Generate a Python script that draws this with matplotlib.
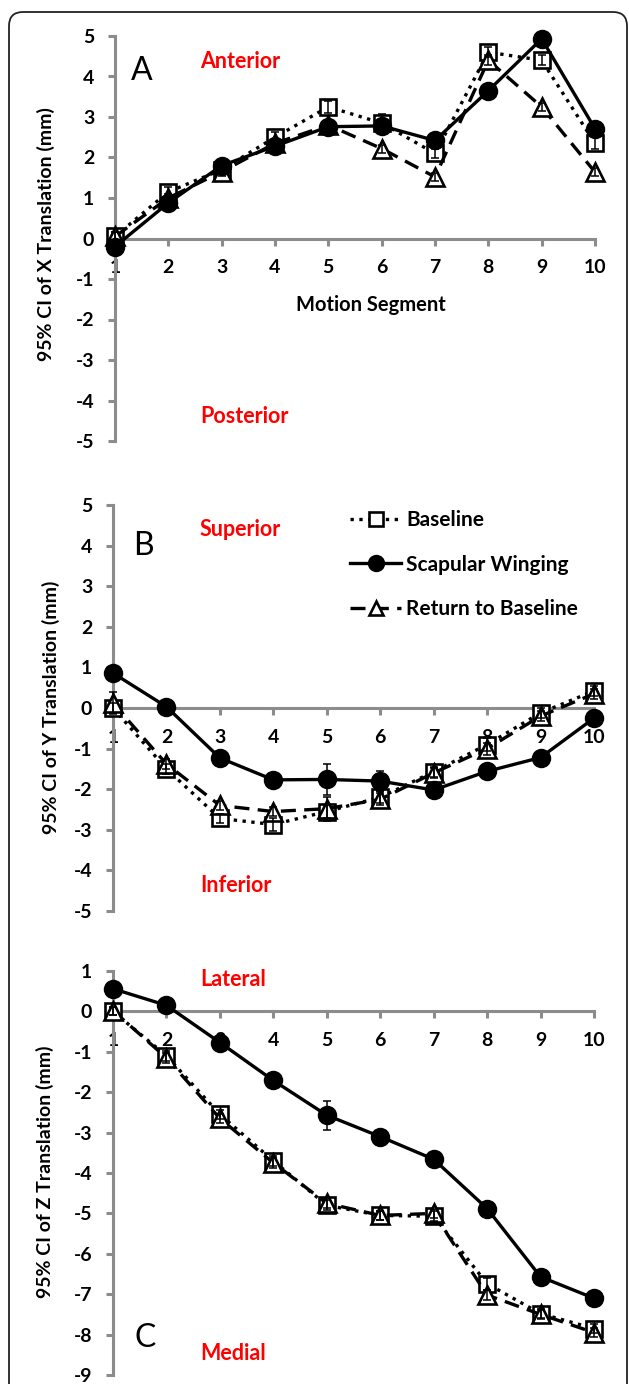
import matplotlib
matplotlib.use("Agg")
import matplotlib.pyplot as plt
from matplotlib.patches import FancyBboxPatch
from matplotlib.lines import Line2D
from matplotlib.transforms import IdentityTransform

plt.rcParams['font.family'] = ['Lato', 'DejaVu Sans']
plt.rcParams['axes.unicode_minus'] = False

segments = [1, 2, 3, 4, 5, 6, 7, 8, 9, 10]

# Panel A: X translation
x_baseline = [0.05, 1.15, 1.7, 2.5, 3.25, 2.85, 2.1, 4.6, 4.4, 2.35]
x_winging  = [-0.2, 0.88, 1.8, 2.28, 2.76, 2.78, 2.42, 3.65, 4.93, 2.71]
x_return   = [0.05, 1.0, 1.65, 2.35, 2.8, 2.22, 1.52, 4.4, 3.25, 1.64]
x_baseline_err = [0.1, 0.12, 0.1, 0.12, 0.15, 0.22, 0.12, 0.12, 0.12, 0.15]
x_winging_err  = [0.1, 0.1, 0.1, 0.1, 0.1, 0.1, 0.1, 0.1, 0.1, 0.1]
x_return_err   = [0.1, 0.1, 0.1, 0.1, 0.1, 0.1, 0.1, 0.12, 0.1, 0.1]

# Panel B: Y translation
y_baseline = [0.0, -1.5, -2.72, -2.87, -2.55, -2.2, -1.57, -0.9, -0.12, 0.42]
y_winging  = [0.86, 0.03, -1.23, -1.77, -1.76, -1.8, -2.02, -1.56, -1.22, -0.25]
y_return   = [0.12, -1.38, -2.4, -2.55, -2.48, -2.25, -1.6, -1.0, -0.2, 0.35]
y_baseline_err = [0.12, 0.12, 0.12, 0.15, 0.15, 0.15, 0.12, 0.15, 0.12, 0.12]
y_winging_err  = [0.1, 0.1, 0.1, 0.1, 0.38, 0.24, 0.1, 0.1, 0.1, 0.1]
y_return_err   = [0.28, 0.12, 0.12, 0.12, 0.3, 0.15, 0.12, 0.15, 0.12, 0.12]

# Panel C: Z translation
z_baseline = [0.0, -1.1, -2.55, -3.7, -4.8, -5.05, -5.07, -6.74, -7.48, -7.85]
z_winging  = [0.56, 0.15, -0.77, -1.71, -2.57, -3.1, -3.66, -4.88, -6.57, -7.1]
z_return   = [0.02, -1.15, -2.65, -3.75, -4.75, -5.05, -5.0, -7.02, -7.5, -7.95]
z_baseline_err = [0.1, 0.12, 0.12, 0.12, 0.12, 0.12, 0.12, 0.15, 0.12, 0.12]
z_winging_err  = [0.1, 0.1, 0.1, 0.1, 0.36, 0.1, 0.1, 0.1, 0.1, 0.1]
z_return_err   = [0.1, 0.12, 0.12, 0.12, 0.12, 0.12, 0.12, 0.12, 0.12, 0.12]

series_labels = ["Baseline", "Scapular Winging", "Return to Baseline"]

W, H = 629, 1384
fig = plt.figure(figsize=(W / 100, H / 100), dpi=100)
fig.patch.set_facecolor('white')

# rounded frame
frame = FancyBboxPatch((9, -40), 618, 1384 - 12 + 40,
                       boxstyle="round,pad=0,rounding_size=14",
                       transform=IdentityTransform(), fill=False,
                       edgecolor='#222222', linewidth=1.3)
fig.patches.append(frame)

AX = '#8c8c8c'
RED = '#ff0000'
TFS = 14

styles = [
    dict(ls=':', lw=2.4, marker='s', mfc='white', mec='black', ms=11, mew=1.9, color='black'),
    dict(ls='-', lw=2.4, marker='o', mfc='black', mec='black', ms=12.5, mew=1.5, color='black'),
    dict(ls=(0, (4.5, 2.5)), lw=2.4, marker='^', mfc='white', mec='black', ms=12.5, mew=1.9, color='black'),
]


def px_axes(x0, x1, ytop, ybot):
    return fig.add_axes([x0 / W, 1 - ybot / H, (x1 - x0) / W, (ybot - ytop) / H])


def ftext(x, y, s, **kw):
    fig.text(x / W, 1 - y / H, s, **kw)


def setup(ax, ylo, yhi):
    ax.set_xlim(1, 10)
    ax.set_ylim(ylo, yhi)
    ax.set_facecolor('none')
    for s in ['top', 'right']:
        ax.spines[s].set_visible(False)
    ax.spines['left'].set_color(AX)
    ax.spines['left'].set_linewidth(2.2)
    ax.spines['bottom'].set_color(AX)
    ax.spines['bottom'].set_linewidth(2.2)
    ax.spines['bottom'].set_position(('data', 0))
    ax.set_xticks(segments)
    ax.set_yticks(range(ylo, yhi + 1))
    ax.tick_params(axis='both', colors=AX, width=2.2, length=5, direction='out',
                   labelsize=TFS, labelcolor='black')
    ax.tick_params(axis='y', pad=10)
    ax.tick_params(axis='x', pad=10)
    for lab in ax.get_xticklabels() + ax.get_yticklabels():
        lab.set_fontweight('bold')


def draw(ax, data, errs):
    for i in [0, 2, 1]:
        st = styles[i]
        ax.errorbar(segments, data[i], yerr=errs[i], fmt='none', ecolor='black',
                    elinewidth=1.1, capsize=3, capthick=1.1, zorder=6, clip_on=False)
        ax.plot(segments, data[i], clip_on=False, zorder=4 + (1 if i == 1 else 0), **st)


# Panel A
axA = px_axes(115, 595, 36, 441)
setup(axA, -5, 5)
draw(axA, [x_baseline, x_winging, x_return], [x_baseline_err, x_winging_err, x_return_err])

# Panel B
axB = px_axes(113, 594, 505, 911)
setup(axB, -5, 5)
draw(axB, [y_baseline, y_winging, y_return], [y_baseline_err, y_winging_err, y_return_err])

# Panel C
axC = px_axes(113, 594, 971, 1375)
setup(axC, -9, 1)
draw(axC, [z_baseline, z_winging, z_return], [z_baseline_err, z_winging_err, z_return_err])

# y labels
ylab_kw = dict(rotation=90, ha='center', va='center', fontsize=14, fontweight='bold')
ftext(46, 234, "95% CI of X Translation (mm)", **ylab_kw)
ftext(51, 707, "95% CI of Y Translation (mm)", **ylab_kw)
ftext(45, 1172, "95% CI of Z Translation (mm)", **ylab_kw)

# x label
ftext(371, 305, "Motion Segment", ha='center', va='center', fontsize=14.5, fontweight='bold')

# direction labels
red_kw = dict(ha='left', va='center', fontsize=15.5, fontweight='bold', color=RED)
ftext(200, 61, "Anterior", **red_kw)
ftext(200, 417, "Posterior", **red_kw)
ftext(200, 530, "Superior", **red_kw)
ftext(200, 886, "Inferior", **red_kw)
ftext(200, 979, "Lateral", **red_kw)
ftext(200, 1353, "Medial", **red_kw)

# panel letters
let_kw = dict(ha='left', va='center', fontsize=23, fontweight='normal', color='black')
ftext(131, 71, "A", **let_kw)
ftext(133, 546, "B", **let_kw)
ftext(134, 1338, "C", **let_kw)

# legend
leg_styles = [dict(s) for s in styles]
leg_styles[0]['ms'] = 9.5
leg_styles[1]['ms'] = 11
leg_styles[2]['ms'] = 9.5
handles = [Line2D([0], [0], **leg_styles[i]) for i in range(3)]
leg = fig.legend(handles, series_labels, loc='upper left',
                 bbox_to_anchor=(350 / W, 1 - 510 / H), frameon=False,
                 handlelength=2.45, handletextpad=0.25, labelspacing=1.18,
                 borderpad=0, borderaxespad=0, prop=dict(size=15, weight='bold'))

fig.savefig("out.png", dpi=100, facecolor='white')
